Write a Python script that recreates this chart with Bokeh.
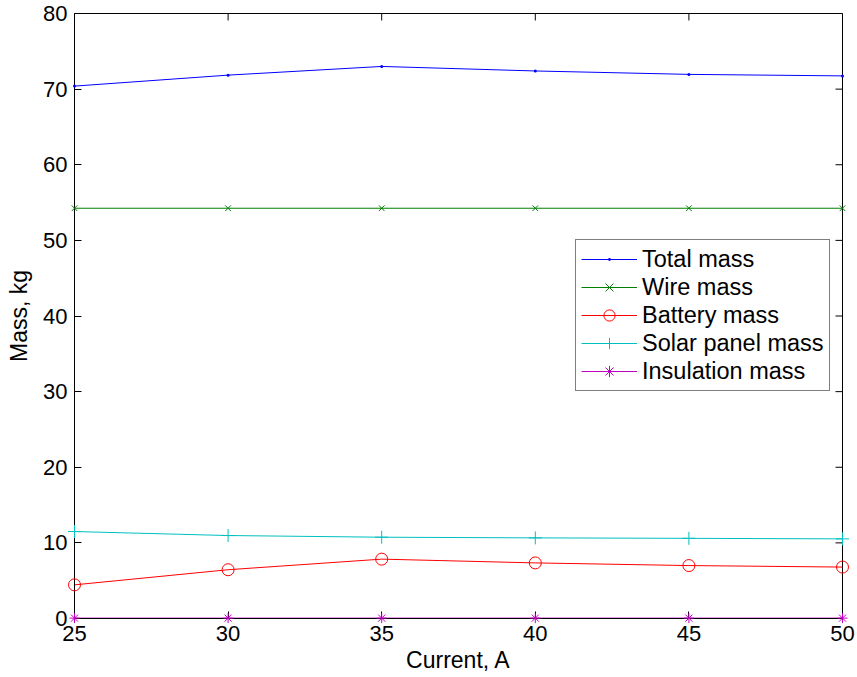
import math
from bokeh.plotting import figure
from bokeh.models import FixedTicker, Range1d, Legend, LegendItem
from bokeh.embed import file_html
from bokeh.resources import INLINE

current = [25, 30, 35, 40, 45, 50]
total_mass = [70.4, 71.85, 73.0, 72.4, 71.95, 71.75]
wire_mass = [54.25, 54.25, 54.25, 54.25, 54.25, 54.25]
battery_mass = [4.45, 6.45, 7.85, 7.35, 7.0, 6.8]
solar_mass = [11.5, 10.97, 10.75, 10.66, 10.6, 10.53]
insulation_mass = [0.05, 0.05, 0.05, 0.05, 0.05, 0.05]

x_ticks = [25, 30, 35, 40, 45, 50]
y_ticks = [0, 10, 20, 30, 40, 50, 60, 70, 80]
x_min, x_max = 25, 50
y_min, y_max = 0, 80

FONT = "Liberation Sans"
TICK_FS = "22px"
LABEL_FS = "23px"

p = figure(width=857, height=677, output_backend="svg", toolbar_location=None,
           x_range=Range1d(x_min, x_max), y_range=Range1d(y_min, y_max),
           min_border_left=74, min_border_right=15, min_border_top=13, min_border_bottom=59)
p.background_fill_color = "white"
p.border_fill_color = "white"
p.outline_line_color = "black"
p.outline_line_width = 1
p.xgrid.visible = False
p.ygrid.visible = False

def style_axis(ax, ticks):
    ax.ticker = FixedTicker(ticks=ticks)
    ax.major_tick_in = 7
    ax.major_tick_out = 0
    ax.minor_tick_in = 0
    ax.minor_tick_out = 0
    ax.axis_line_color = "black"
    ax.major_tick_line_color = "black"
    ax.major_label_text_font = FONT
    ax.major_label_text_color = "black"
    ax.major_label_text_font_size = TICK_FS
    ax.major_label_standoff = 7
    ax.axis_label_text_font = FONT
    ax.axis_label_text_font_size = LABEL_FS
    ax.axis_label_text_font_style = "normal"
    ax.axis_label_text_color = "black"

style_axis(p.xaxis[0], x_ticks)
style_axis(p.yaxis[0], y_ticks)
p.xaxis[0].axis_label = "Current, A"
p.yaxis[0].axis_label = "Mass, kg"
p.xaxis[0].axis_label_standoff = 3
p.yaxis[0].axis_label_standoff = 8

# inward ticks on top and right edges (half of each dash is clipped by the frame)
p.scatter([t for t in x_ticks], [y_max] * len(x_ticks), marker="dash", angle=math.pi / 2,
          size=14, line_color="black", line_width=1)
p.scatter([x_max] * len(y_ticks), [t for t in y_ticks], marker="dash",
          size=14, line_color="black", line_width=1)

blue = "#0000ff"
green = "#008000"
red = "#ff0000"
cyan = "#00bfbf"
magenta = "#bf00bf"

items = []
l1 = p.line(current, total_mass, line_color=blue, line_width=1)
m1 = p.scatter(current, total_mass, marker="dot", size=12, fill_color=blue, line_color=blue, level="overlay")
items.append(LegendItem(label="Total mass", renderers=[l1, m1]))

l2 = p.line(current, wire_mass, line_color=green, line_width=1)
m2 = p.scatter(current, wire_mass, marker="x", size=8, line_color=green, level="overlay")
items.append(LegendItem(label="Wire mass", renderers=[l2, m2]))

l3 = p.line(current, battery_mass, line_color=red, line_width=1)
m3 = p.scatter(current, battery_mass, marker="circle", size=12, fill_color=None, line_color=red, level="overlay")
items.append(LegendItem(label="Battery mass", renderers=[l3, m3]))

l4 = p.line(current, solar_mass, line_color=cyan, line_width=1)
m4 = p.scatter(current, solar_mass, marker="cross", size=13, line_color=cyan, level="overlay")
items.append(LegendItem(label="Solar panel mass", renderers=[l4, m4]))

l5 = p.line(current, insulation_mass, line_color=magenta, line_width=1)
m5 = p.scatter(current, insulation_mass, marker="asterisk", size=10, line_color=magenta, level="overlay")
items.append(LegendItem(label="Insulation mass", renderers=[l5, m5]))

legend = Legend(items=items, location=(501, 227))
legend.label_text_font = FONT
legend.label_text_font_size = "23.5px"
legend.label_text_color = "black"
legend.border_line_color = "black"
legend.border_line_width = 1
legend.background_fill_color = "white"
legend.background_fill_alpha = 1
legend.padding = 5
legend.spacing = 0
legend.margin = 0
legend.label_height = 28
legend.glyph_height = 28
legend.glyph_width = 56
legend.label_standoff = 5
p.add_layout(legend, "center")

open("out.html", "w").write(file_html(p, INLINE))
